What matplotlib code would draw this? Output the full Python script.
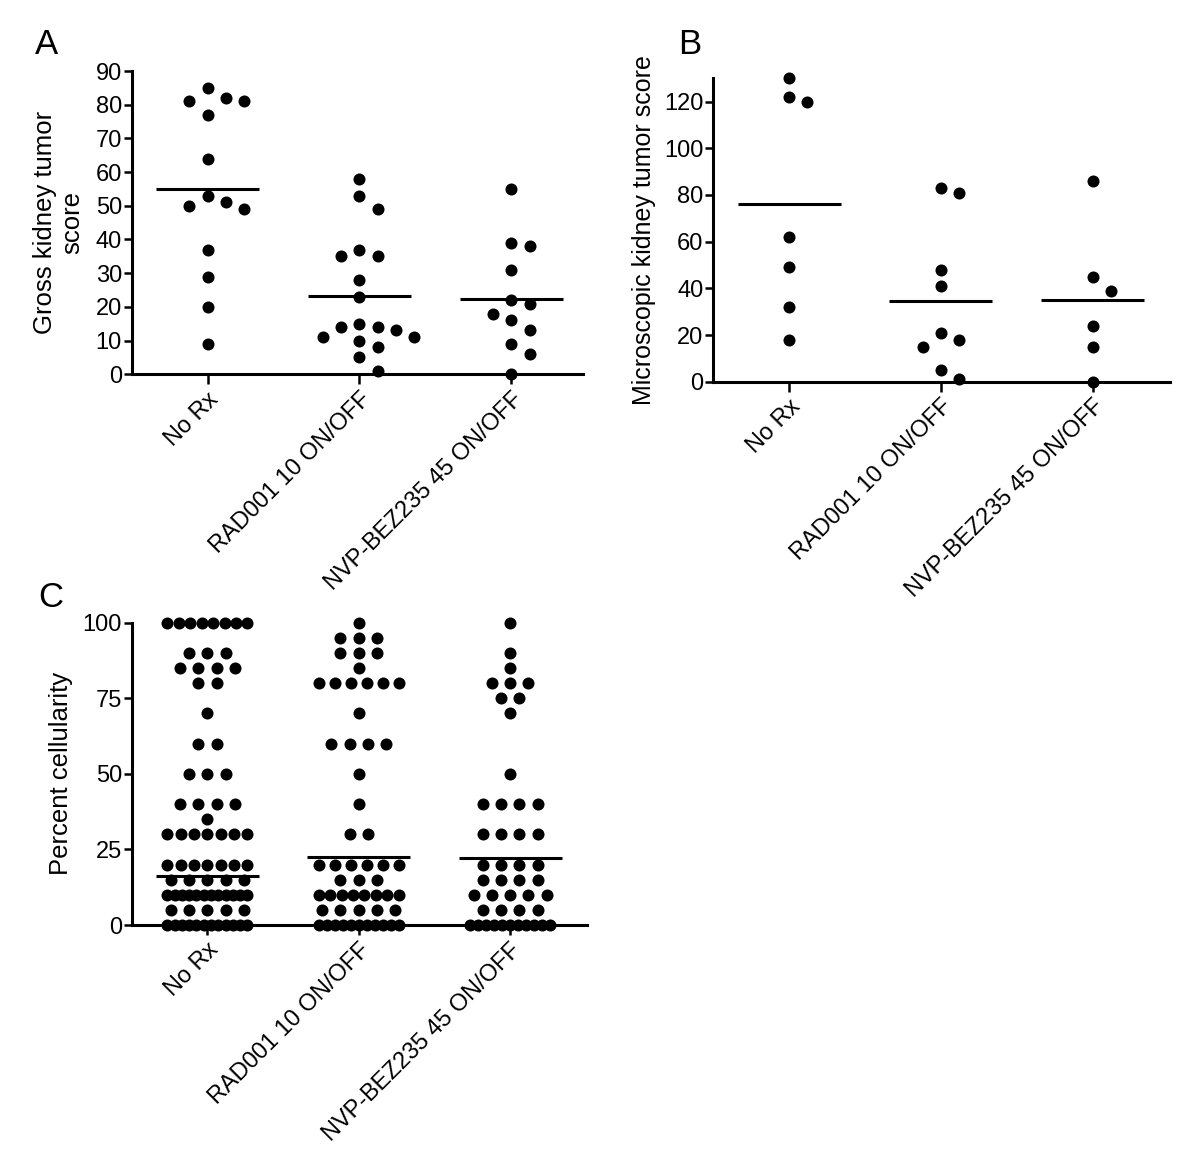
import numpy as np
import matplotlib
matplotlib.use('Agg')
import matplotlib.pyplot as plt

plt.rcParams['font.family'] = ['Liberation Sans', 'DejaVu Sans']

groups = ['No Rx', 'RAD001 10 ON/OFF', 'NVP-BEZ235 45 ON/OFF']

# panel A: gross kidney tumor score (line = mean)
gross_norx = [85, 82, 81, 81, 77, 64, 53, 51, 50, 49, 37, 29, 20, 9]
gross_rad = [58, 53, 49, 37, 35, 35, 28, 23, 15, 14, 14, 13, 11, 11, 10, 8, 5, 1]
gross_nvp = [55, 39, 38, 31, 22, 21, 18, 16, 13, 9, 6, 0]

# panel B: microscopic kidney tumor score (line = mean)
micro_norx = [130, 122, 120, 62, 49, 32, 18]
micro_rad = [83, 81, 48, 41, 21, 18, 15, 5, 1]
micro_nvp = [86, 45, 39, 24, 15, 0]

# panel C: percent cellularity, values and how many points sit at each
cell_levels_norx = [100, 90, 85, 80, 70, 60, 50, 40, 35, 30, 20, 15, 10, 5, 0]
cell_counts_norx = [8, 3, 4, 2, 1, 2, 3, 4, 1, 7, 7, 5, 12, 5, 12]
cell_levels_rad = [100, 95, 90, 85, 80, 70, 60, 50, 40, 30, 20, 15, 10, 5, 0]
cell_counts_rad = [1, 3, 3, 1, 6, 1, 4, 1, 1, 2, 6, 3, 8, 5, 11]
cell_levels_nvp = [100, 90, 85, 80, 75, 70, 50, 40, 30, 20, 15, 10, 5, 0]
cell_counts_nvp = [1, 1, 1, 3, 2, 1, 1, 4, 4, 4, 4, 5, 4, 11]
cell_lines = [16.3, 22.5, 22.0]

W, H = 1200, 1162
TICK_FS = 17
LABEL_FS = 18.5
fig = plt.figure(figsize=(W / 100, H / 100), dpi=100)


def add_axes(left, right, top, bottom):
    return fig.add_axes([left / W, 1 - bottom / H, (right - left) / W, (bottom - top) / H])


def px_scale(ax):
    t = ax.transData
    p0 = t.transform((0, 0))
    p1 = t.transform((1, 1))
    return p1[0] - p0[0], p1[1] - p0[1]


def swarm(vals, pxx, pxy, step=18.3, thresh=16.0):
    vals = np.asarray(vals, dtype=float)
    order = np.argsort(-vals, kind='stable')
    slots = [0]
    for k in range(1, 12):
        slots += [k, -k]
    placed = []
    offs = np.zeros(len(vals))
    for i in order:
        y = vals[i] * pxy
        for s in slots:
            x = s * step
            if all(np.hypot(x - a, y - b) >= thresh for a, b in placed):
                break
        placed.append((x, y))
        offs[i] = x / pxx
    return offs


def rows(levels, counts, pxx, step=18.3, half=40.0):
    xs, ys = [], []
    for v, n in zip(levels, counts):
        sp = step if n == 1 else min(step, 2 * half / (n - 1))
        xs += list((np.arange(n) - (n - 1) / 2) * sp / pxx)
        ys += [v] * n
    return np.array(xs), np.array(ys)


def style(ax, ylim, yticks, xmax):
    ax.set_xlim(-0.5, xmax)
    ax.set_ylim(*ylim)
    ax.set_yticks(yticks)
    ax.set_xticks([0, 1, 2])
    ax.set_xticklabels(groups, rotation=45, ha='right', rotation_mode='anchor')
    for s in ['top', 'right']:
        ax.spines[s].set_visible(False)
    for s in ['left', 'bottom']:
        ax.spines[s].set_linewidth(2.2)
    ax.tick_params(axis='y', direction='out', length=5.5, width=1.8, labelsize=TICK_FS, pad=1.5)
    ax.tick_params(axis='x', direction='out', length=7, width=1.8, labelsize=TICK_FS, pad=3)


def dot_panel(ax, data):
    pxx, pxy = px_scale(ax)
    for i, vals in enumerate(data):
        offs = swarm(vals, pxx, pxy)
        ax.scatter(i + offs, vals, s=75, color='black', zorder=3, clip_on=False, linewidths=0)
        ax.hlines(np.mean(vals), i - 0.34, i + 0.34, color='black', lw=2.2, zorder=4)


# A
axA = add_axes(131.7, 582.7, 71, 374.3)
style(axA, (0, 90), range(0, 91, 10), 2.47)
dot_panel(axA, [gross_norx, gross_rad, gross_nvp])
axA.set_ylabel('Gross kidney tumor\nscore', fontsize=LABEL_FS)
axA.yaxis.set_label_coords(-0.105, 0.5)

# B
axB = add_axes(713.3, 1170, 78.3, 381.7)
style(axB, (0, 130), range(0, 121, 20), 2.51)
dot_panel(axB, [micro_norx, micro_rad, micro_nvp])
axB.set_ylabel('Microscopic kidney tumor score', fontsize=18)
axB.yaxis.set_label_coords(-0.125, 0.5)

# C
axC = add_axes(131.7, 586.7, 622.7, 925)
style(axC, (0, 100), [0, 25, 50, 75, 100], 2.506)
pxx, _ = px_scale(axC)
cell = [(cell_levels_norx, cell_counts_norx), (cell_levels_rad, cell_counts_rad),
        (cell_levels_nvp, cell_counts_nvp)]
for i, (lv, ct) in enumerate(cell):
    xs, ys = rows(lv, ct, pxx)
    axC.scatter(i + xs, ys, s=75, color='black', zorder=3, clip_on=False, linewidths=0)
    axC.hlines(cell_lines[i], i - 0.34, i + 0.34, color='black', lw=2.2, zorder=4)
axC.set_ylabel('Percent cellularity', fontsize=LABEL_FS)
axC.yaxis.set_label_coords(-0.128, 0.5)

fig.text(35 / W, 1 - 54 / H, 'A', fontsize=25, va='baseline')
fig.text(678 / W, 1 - 54 / H, 'B', fontsize=25, va='baseline')
fig.text(38 / W, 1 - 607 / H, 'C', fontsize=25, va='baseline')

fig.savefig('out.png', dpi=100)
